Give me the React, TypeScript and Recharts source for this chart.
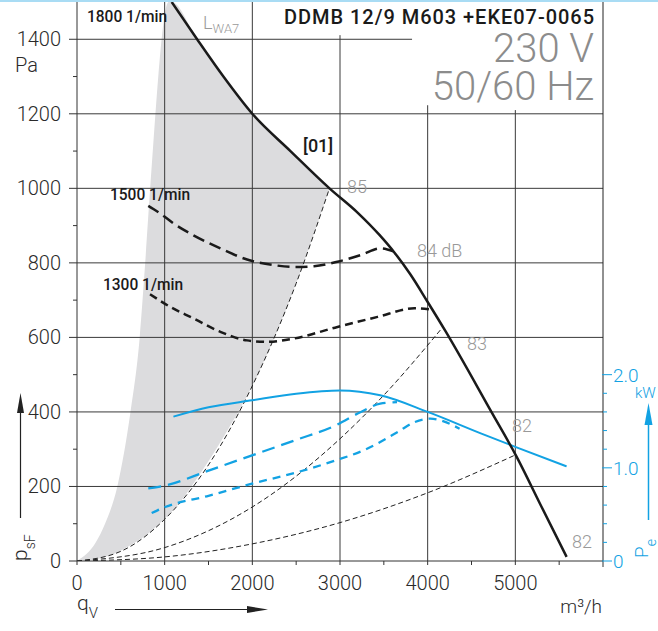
import React from "react";
import { ComposedChart, Line, Area, XAxis, YAxis, ReferenceLine } from "recharts";

// axis ticks
const flowTicks = [0, 500, 1000, 1500, 2000, 2500, 3000, 3500, 4000, 4500, 5000, 5500, 6000];
const flowLabels = [0, 1000, 2000, 3000, 4000, 5000];
const paTicks = [0, 100, 200, 300, 400, 500, 600, 700, 800, 900, 1000, 1100, 1200, 1300, 1400];
const paLabels = [0, 200, 400, 600, 800, 1000, 1200, 1400];
const kwTicks = [0, 0.2, 0.4, 0.6, 0.8, 1.0, 1.2, 1.4, 1.6, 1.8, 2.0];
const kwLabels = ["0", "1.0", "2.0"];

// pressure curves (q in m³/h, p in Pa)
const curve1800 = [
  { q: 1080, p: 1500 }, { q: 1370, p: 1400 }, { q: 1670, p: 1300 }, { q: 2000, p: 1200 },
  { q: 2435, p: 1100 }, { q: 2880, p: 1000 }, { q: 3200, p: 935 }, { q: 3450, p: 875 },
  { q: 3620, p: 828 }, { q: 3800, p: 770 }, { q: 4000, p: 695 }, { q: 4200, p: 618 },
  { q: 4727, p: 400 }, { q: 5014, p: 280 }, { q: 5300, p: 145 }, { q: 5585, p: 11 },
];
const curve1500 = [
  { q: 813, p: 953 }, { q: 947, p: 933 }, { q: 1100, p: 906 }, { q: 1329, p: 874 },
  { q: 1635, p: 839 }, { q: 1940, p: 809 }, { q: 2245, p: 794 }, { q: 2474, p: 789 },
  { q: 2704, p: 791 }, { q: 2971, p: 803 }, { q: 3238, p: 821 }, { q: 3467, p: 839 },
  { q: 3610, p: 831 },
];
const curve1300 = [
  { q: 833, p: 716 }, { q: 1062, p: 682 }, { q: 1329, p: 651 }, { q: 1635, p: 615 },
  { q: 1940, p: 592 }, { q: 2169, p: 588 }, { q: 2474, p: 597 }, { q: 2971, p: 628 },
  { q: 3429, p: 655 }, { q: 3849, p: 678 }, { q: 4040, p: 675 },
];

// system curves
const sys85 = [
  { q: 0, p: 0 }, { q: 500, p: 26 }, { q: 1000, p: 112 }, { q: 1500, p: 258 },
  { q: 2000, p: 470 }, { q: 2500, p: 745 }, { q: 2880, p: 1000 },
];
const sys83 = [
  { q: 0, p: 0 }, { q: 1000, p: 36 }, { q: 2000, p: 145 }, { q: 3000, p: 328 },
  { q: 3500, p: 445 }, { q: 4174, p: 628 },
];
const sys82 = [
  { q: 0, p: 0 }, { q: 1000, p: 11 }, { q: 2000, p: 46 }, { q: 3000, p: 103 },
  { q: 4000, p: 183 }, { q: 4995, p: 284 },
];

// LWA7 shaded band
const lwaFlow = [0, 215, 320, 460, 610, 715, 778, 835, 1045, 1080, 1370, 1670, 2000, 2435, 2880];
const lwaLow = [0, 5, 11, 23, 42, 58, 68, 78, 124, 132, 222, 332, 470, 705, 1000];
const lwaHigh = [0, 50, 100, 200, 400, 600, 800, 1000, 1500, 1500, 1400, 1300, 1200, 1100, 1000];
const lwaBand = lwaFlow.map((q, i) => ({ q, band: [lwaLow[i], lwaHigh[i]] }));

// power curves (kW)
const power1800 = [
  { q: 1100, kw: 1.55 }, { q: 1500, kw: 1.65 }, { q: 2000, kw: 1.725 }, { q: 2500, kw: 1.795 },
  { q: 3000, kw: 1.83 }, { q: 3459, kw: 1.778 }, { q: 4000, kw: 1.6 }, { q: 4613, kw: 1.367 },
  { q: 5014, kw: 1.22 }, { q: 5585, kw: 1.015 },
];
const power1500 = [
  { q: 813, kw: 0.78 }, { q: 1005, kw: 0.81 }, { q: 1500, kw: 0.97 }, { q: 1997, kw: 1.134 },
  { q: 2500, kw: 1.3 }, { q: 2952, kw: 1.456 }, { q: 3238, kw: 1.6 }, { q: 3459, kw: 1.689 },
  { q: 3650, kw: 1.706 },
];
const power1300 = [
  { q: 852, kw: 0.515 }, { q: 1005, kw: 0.579 }, { q: 1500, kw: 0.7 }, { q: 1997, kw: 0.83 },
  { q: 2500, kw: 0.95 }, { q: 2952, kw: 1.08 }, { q: 3276, kw: 1.19 }, { q: 3658, kw: 1.384 },
  { q: 3849, kw: 1.49 }, { q: 4030, kw: 1.528 }, { q: 4364, kw: 1.42 },
];

// grid layout
const vGrid = [
  { x: 1000, top: 1500 }, { x: 2000, top: 1500 }, { x: 3000, top: 1411 },
  { x: 4000, top: 1223 }, { x: 5000, top: 1210 },
];
const hGrid = [
  { y: 200, right: 6000 }, { y: 400, right: 6000 }, { y: 600, right: 6000 }, { y: 800, right: 6000 },
  { y: 1000, right: 6000 }, { y: 1200, right: 6000 }, { y: 1400, right: 3822 },
];

const BLUE = "#12a2e3";
const FONT = "Roboto, 'Liberation Sans', Arial, sans-serif";
const GRID = "#3a3a3a";

const PaTick = (props: any) => {
  const { x, y, payload } = props;
  const major = paLabels.includes(payload.value);
  return (
    <g>
      <line x1={x - (major ? 8 : 4)} x2={x} y1={y} y2={y} stroke="#333" />
      {major && (
        <text x={x - 16} y={y + 7} textAnchor="end" fontSize={20} fontWeight={300} fill="#2a2a2a" fontFamily={FONT}>
          {payload.value}
        </text>
      )}
    </g>
  );
};

const FlowTick = (props: any) => {
  const { x, y, payload } = props;
  const major = flowLabels.includes(payload.value);
  return (
    <g>
      <line x1={x} x2={x} y1={y} y2={y + (payload.value === 6000 ? 6 : 4)} stroke="#333" />
      {major && (
        <text x={x} y={y + 29} textAnchor="middle" fontSize={20} fontWeight={300} fill="#2a2a2a" fontFamily={FONT}>
          {payload.value}
        </text>
      )}
    </g>
  );
};

const KwTick = (props: any) => {
  const { x, y, payload } = props;
  const v = payload.value;
  const major = Math.abs(v - Math.round(v)) < 1e-6;
  return (
    <g>
      <line x1={x - (major ? 1 : 0)} x2={x + (major ? 9 : 4)} y1={y} y2={y} stroke={BLUE} />
      {major && (
        <text x={x + 10} y={y + 7} textAnchor="start" fontSize={19} fontWeight={300} fill={BLUE} fontFamily={FONT}>
          {kwLabels[Math.round(v)]}
        </text>
      )}
    </g>
  );
};

export default function App() {
  return (
    <div style={{ position: "absolute", left: 0, top: 0, width: 658, height: 631, background: "#fff" }}>
      <ComposedChart width={658} height={631} margin={{ top: 2, right: 0, bottom: 0, left: 17 }}>
        <XAxis
          dataKey="q"
          type="number"
          domain={[0, 6000]}
          ticks={flowTicks}
          interval={0}
          height={70}
          tickSize={0}
          tickMargin={0}
          tickLine={false}
          axisLine={{ stroke: "#333" }}
          tick={<FlowTick />}
          allowDataOverflow
        />
        <YAxis
          yAxisId="pa"
          type="number"
          domain={[0, 1500]}
          ticks={paTicks}
          interval={0}
          width={60}
          tickSize={0}
          tickMargin={0}
          tickLine={false}
          axisLine={{ stroke: "#333" }}
          tick={<PaTick />}
          allowDataOverflow
        />
        <YAxis
          yAxisId="kw"
          orientation="right"
          type="number"
          domain={[0, 6]}
          ticks={kwTicks}
          interval={0}
          width={55}
          tickSize={0}
          tickMargin={0}
          tickLine={false}
          axisLine={{ stroke: "#222" }}
          tick={<KwTick />}
          allowDataOverflow
        />
        <Area
          yAxisId="pa"
          data={lwaBand}
          dataKey="band"
          type="monotone"
          stroke="none"
          fill="#dcdcde"
          fillOpacity={1}
          isAnimationActive={false}
        />
        {vGrid.map((g) => (
          <ReferenceLine
            key={"v" + g.x}
            yAxisId="pa"
            segment={[{ x: g.x, y: 0 }, { x: g.x, y: g.top }]}
            stroke={GRID}
            strokeWidth={1}
          />
        ))}
        {hGrid.map((g) => (
          <ReferenceLine
            key={"h" + g.y}
            yAxisId="pa"
            segment={[{ x: 0, y: g.y }, { x: g.right, y: g.y }]}
            stroke={GRID}
            strokeWidth={1}
          />
        ))}
        <Line yAxisId="pa" data={sys85} dataKey="p" type="monotone" stroke="#222" strokeWidth={1} strokeDasharray="5 3" dot={false} isAnimationActive={false} />
        <Line yAxisId="pa" data={sys83} dataKey="p" type="monotone" stroke="#222" strokeWidth={1} strokeDasharray="5 3" dot={false} isAnimationActive={false} />
        <Line yAxisId="pa" data={sys82} dataKey="p" type="monotone" stroke="#222" strokeWidth={1} strokeDasharray="5 3" dot={false} isAnimationActive={false} />
        <Line yAxisId="kw" data={power1800} dataKey="kw" type="monotone" stroke={BLUE} strokeWidth={2} dot={false} isAnimationActive={false} />
        <Line yAxisId="kw" data={power1500} dataKey="kw" type="monotone" stroke={BLUE} strokeWidth={2.3} strokeDasharray="13 7" dot={false} isAnimationActive={false} />
        <Line yAxisId="kw" data={power1300} dataKey="kw" type="monotone" stroke={BLUE} strokeWidth={2.3} strokeDasharray="8 6" dot={false} isAnimationActive={false} />
        <Line yAxisId="pa" data={curve1500} dataKey="p" type="monotone" stroke="#1a1a1a" strokeWidth={2.5} strokeDasharray="12 6" dot={false} isAnimationActive={false} />
        <Line yAxisId="pa" data={curve1300} dataKey="p" type="monotone" stroke="#1a1a1a" strokeWidth={2.5} strokeDasharray="8 5" dot={false} isAnimationActive={false} />
        <Line yAxisId="pa" data={curve1800} dataKey="p" type="monotone" stroke="#1a1a1a" strokeWidth={2.5} dot={false} isAnimationActive={false} />
      </ComposedChart>
      <svg
        width={658}
        height={631}
        style={{ position: "absolute", left: 0, top: 0, pointerEvents: "none" }}
        fontFamily={FONT}
      >
        <rect x={0} y={0} width={658} height={2} fill="#a9dcf4" />
        {/* header */}
        <text x={594} y={24} textAnchor="end" fontSize={20} fontWeight={500} fill="#1a1a1a" textLength={310} lengthAdjust="spacing">
          DDMB 12/9 M603 +EKE07-0065
        </text>
        <text x={594} y={62} textAnchor="end" fontSize={40} fontWeight={300} fill="#8c8c8c">230 V</text>
        <text x={594} y={100} textAnchor="end" fontSize={40} fontWeight={300} fill="#8c8c8c">50/60 Hz</text>
        {/* curve labels */}
        <text x={87} y={22} fontSize={16} fontWeight={500} fill="#1a1a1a" textLength={80} lengthAdjust="spacingAndGlyphs">1800 1/min</text>
        <text x={110} y={200} fontSize={16} fontWeight={500} fill="#1a1a1a" textLength={80} lengthAdjust="spacingAndGlyphs">1500 1/min</text>
        <text x={103} y={290} fontSize={16} fontWeight={500} fill="#1a1a1a" textLength={80} lengthAdjust="spacingAndGlyphs">1300 1/min</text>
        <text x={303} y={152} fontSize={18} fontWeight={500} fill="#1a1a1a">[01]</text>
        <text x={203} y={29} fontSize={18} fontWeight={300} fill="#9a9a9a">
          L<tspan fontSize={13} dy={4}>WA7</tspan>
        </text>
        {/* sound levels */}
        <text x={347} y={193} fontSize={18} fontWeight={300} fill="#999">85</text>
        <text x={417} y={257} fontSize={18} fontWeight={300} fill="#999">84 dB</text>
        <text x={467} y={350} fontSize={18} fontWeight={300} fill="#999">83</text>
        <text x={512} y={432} fontSize={18} fontWeight={300} fill="#999">82</text>
        <text x={572} y={548} fontSize={18} fontWeight={300} fill="#999">82</text>
        {/* left axis title */}
        <text x={15} y={72} fontSize={20} fontWeight={300} fill="#2a2a2a">Pa</text>
        <line x1={20.5} x2={20.5} y1={518} y2={410} stroke="#222" strokeWidth={1.2} />
        <polygon points="20.5,393 17,413 24,413" fill="#222" />
        <text transform="translate(27,561) rotate(-90)" fontSize={21} fontWeight={300} fill="#2a2a2a">
          p<tspan fontSize={14} dy={8}>sF</tspan>
        </text>
        {/* bottom axis title */}
        <text x={77} y={610} fontSize={21} fontWeight={300} fill="#2a2a2a">
          q<tspan fontSize={15} dy={8}>V</tspan>
        </text>
        <line x1={115} x2={250} y1={609.5} y2={609.5} stroke="#222" strokeWidth={1.2} />
        <polygon points="268,609.5 247,606 247,613" fill="#222" />
        <text x={602} y={613} textAnchor="end" fontSize={19} fontWeight={300} fill="#2a2a2a">m³/h</text>
        {/* right axis title */}
        <text x={635} y={398} fontSize={15} fontWeight={300} fill={BLUE}>kW</text>
        <line x1={648.5} x2={648.5} y1={520} y2={420} stroke={BLUE} strokeWidth={1.5} />
        <polygon points="648.5,403 644.5,425 652.5,425" fill={BLUE} />
        <text transform="translate(648,558) rotate(-90)" fontSize={19} fontWeight={300} fill={BLUE}>
          P<tspan fontSize={14} dy={8}>e</tspan>
        </text>
      </svg>
    </div>
  );
}
